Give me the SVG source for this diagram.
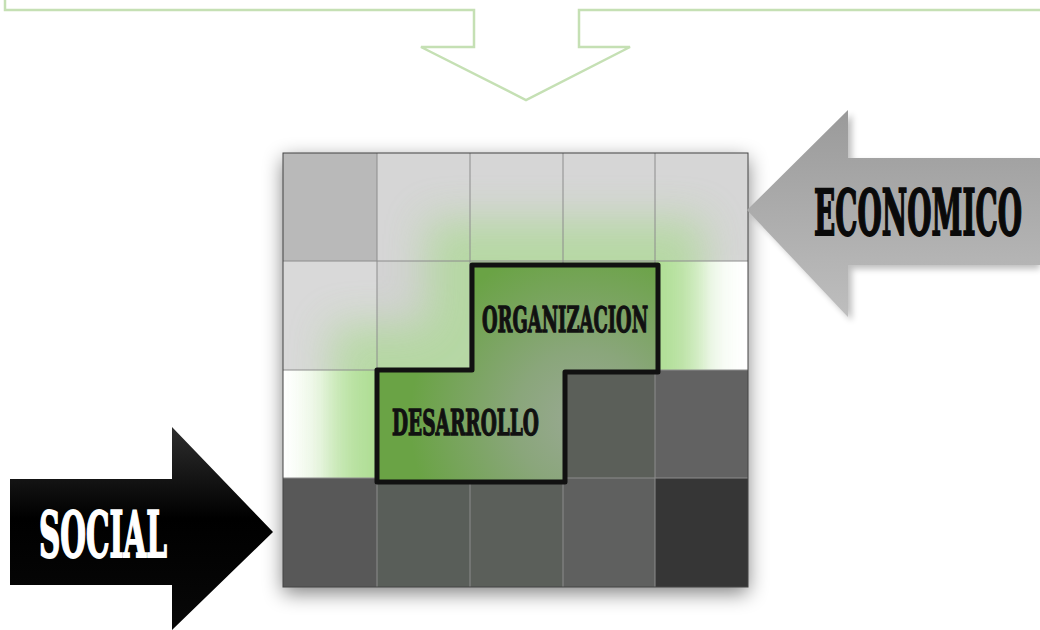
<svg xmlns="http://www.w3.org/2000/svg" width="1040" height="630" viewBox="0 0 1040 630">
<style>
.lbl{font-family:"DejaVu Serif","Liberation Serif",serif;font-weight:bold;}
.gl{fill:none;stroke:#8c8c8c;stroke-width:1;}
</style>
<defs>
<filter id="blur18" x="-50%" y="-50%" width="200%" height="200%"><feGaussianBlur stdDeviation="20"/></filter>
<filter id="blur10" x="-30%" y="-30%" width="160%" height="160%"><feGaussianBlur stdDeviation="10"/></filter>
<filter id="blur3" x="-20%" y="-20%" width="140%" height="140%"><feGaussianBlur stdDeviation="3"/></filter>
<linearGradient id="gEco" x1="0" y1="110" x2="0" y2="317" gradientUnits="userSpaceOnUse"><stop offset="0" stop-color="#9a9a9a"/><stop offset="1" stop-color="#bebebe"/></linearGradient>
<linearGradient id="gSoc" x1="0" y1="427" x2="0" y2="630" gradientUnits="userSpaceOnUse"><stop offset="0" stop-color="#2e2e2e"/><stop offset="0.45" stop-color="#000"/><stop offset="1" stop-color="#080808"/></linearGradient>
<linearGradient id="gR2C0" x1="0" x2="1"><stop offset="0" stop-color="#fff"/><stop offset="0.4" stop-color="#f3faee"/><stop offset="1" stop-color="#bfe6a6"/></linearGradient>
<linearGradient id="gR1C4" x1="0" x2="1"><stop offset="0" stop-color="#bfe6a6"/><stop offset="0.6" stop-color="#fff"/><stop offset="1" stop-color="#fff"/></linearGradient>
<radialGradient id="gShape" cx="585" cy="420" r="175" gradientUnits="userSpaceOnUse"><stop offset="0" stop-color="#9aa994"/><stop offset="0.4" stop-color="#8aa67b"/><stop offset="1" stop-color="#6aa345"/></radialGradient>
<clipPath id="clipLight"><path d="M283 153H748V370H470V478H283Z"/></clipPath>
</defs>

<g id="top-arrow">
<path d="M5 0V10H474V47H421L526 100L630 47H579V10H1040" fill="none" stroke="#c5e0b4" stroke-width="2.5"/>
</g>

<g id="grid">
<rect x="283" y="159" width="465" height="434" fill="#000" opacity="0.5" filter="url(#blur10)"/>
<rect x="283" y="153" width="94" height="108" fill="#b9b9b9"/>
<rect x="377" y="153" width="371" height="108" fill="#d6d6d6"/>
<rect x="283" y="261" width="94" height="109" fill="#d9d9d9"/>
<rect x="377" y="261" width="93" height="109" fill="#d3d3d3"/>
<rect x="470" y="261" width="185" height="109" fill="#d3d3d3"/>
<rect x="655" y="261" width="93" height="109" fill="url(#gR1C4)"/>
<rect x="283" y="370" width="94" height="108" fill="url(#gR2C0)"/>
<rect x="377" y="370" width="186" height="108" fill="#d3d3d3"/>
<g clip-path="url(#clipLight)">
<path d="M472 265H658V372H565V482H377V370H472Z" fill="none" stroke="#a6d98a" stroke-width="90" opacity="0.65" filter="url(#blur18)"/>
</g>
<rect x="563" y="370" width="92" height="108" fill="#5b5f59"/>
<rect x="655" y="370" width="93" height="108" fill="#626262"/>
<rect x="283" y="478" width="94" height="109" fill="#585858"/>
<rect x="377" y="478" width="93" height="109" fill="#595e59"/>
<rect x="470" y="478" width="93" height="109" fill="#5b5f5a"/>
<rect x="563" y="478" width="92" height="109" fill="#5f605f"/>
<rect x="655" y="478" width="93" height="109" fill="#363636"/>
<path class="gl" d="M377 153V587M470 153V587M563 153V587M655 153V587M283 261H748M283 370H748M283 478H748"/>
<rect x="283" y="153" width="465" height="434" fill="none" stroke="#444" stroke-width="1"/>
</g>

<g id="shape">
<path d="M472 265H658V372H565V482H377V370H472Z" fill="url(#gShape)" stroke="#111" stroke-width="5" stroke-linejoin="round"/>
<text class="lbl" x="482" y="332" font-size="36" textLength="166" lengthAdjust="spacingAndGlyphs" fill="#111" stroke="#111" stroke-width="1.4">ORGANIZACION</text>
<text class="lbl" x="392" y="435" font-size="36" textLength="147" lengthAdjust="spacingAndGlyphs" fill="#111" stroke="#111" stroke-width="1.4">DESARROLLO</text>
</g>

<g id="arrow-economico">
<path d="M752 214L852 114V162H1040V269H852V321Z" fill="#000" opacity="0.25" filter="url(#blur3)"/>
<path d="M747 210L848 110V158H1040V265H848V317Z" fill="url(#gEco)"/>
<text class="lbl" transform="scale(0.47 1)" x="1732" y="235" font-size="63" textLength="442.5" lengthAdjust="spacingAndGlyphs" fill="#0a0a0a" stroke="#0a0a0a" stroke-width="2">ECONOMICO</text>
</g>

<g id="arrow-social">
<path d="M10 479H172V427L273 532L172 630V585H10Z" fill="url(#gSoc)"/>
<text class="lbl" x="39" y="557" font-size="63" textLength="128" lengthAdjust="spacingAndGlyphs" fill="#fff" stroke="#fff" stroke-width="2">SOCIAL</text>
</g>
</svg>
